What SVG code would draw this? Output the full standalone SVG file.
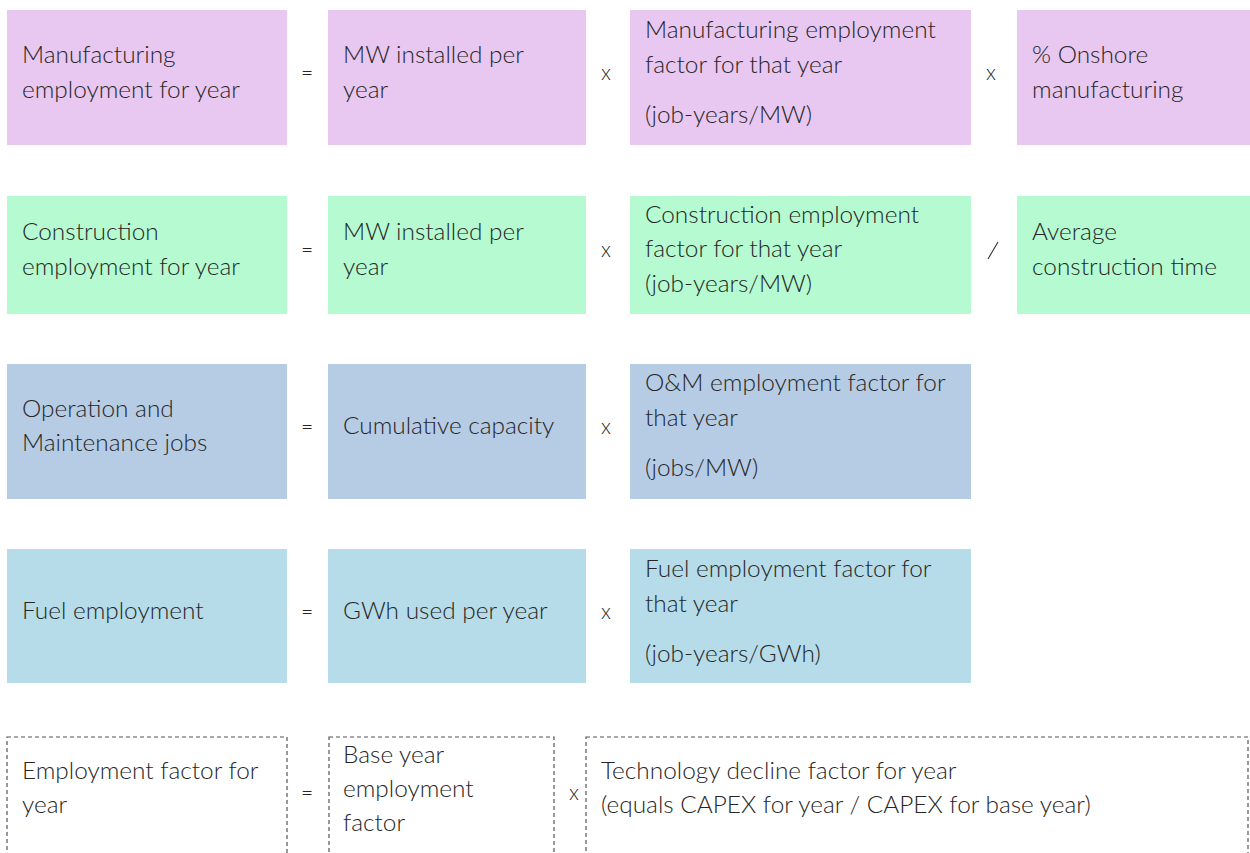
<svg xmlns="http://www.w3.org/2000/svg" width="1250" height="853" viewBox="0 0 1250 853">
  <style>
    text { font-family: Lato, "Open Sans", "Liberation Sans", sans-serif; font-size: 24.4px; font-weight: 300; fill: #262626; }
    .op { font-size: 21px; text-anchor: middle; }
    .mfg { fill: #E8C7F1; }
    .con { fill: #B5FAD0; }
    .om { fill: #B6CBE4; }
    .fuel { fill: #B5DCE8; }
    .dash { fill: none; stroke: #555555; stroke-width: 1.2; stroke-dasharray: 4 3; }
  </style>

  <!-- Row 1: manufacturing -->
  <g id="mfg-result"><rect class="mfg" x="7" y="10" width="280" height="135"/>
    <text x="22" y="63">Manufacturing</text><text x="22" y="98">employment for year</text></g>
  <g id="mfg-mw"><rect class="mfg" x="328" y="10" width="258" height="135"/>
    <text x="343" y="63">MW installed per</text><text x="343" y="98">year</text></g>
  <g id="mfg-factor"><rect class="mfg" x="630" y="10" width="341" height="135"/>
    <text x="645" y="38">Manufacturing employment</text><text x="645" y="73">factor for that year</text><text x="645" y="123">(job-years/MW)</text></g>
  <g id="mfg-onshore"><rect class="mfg" x="1017" y="10" width="233" height="135"/>
    <text x="1032" y="63">% Onshore</text><text x="1032" y="98">manufacturing</text></g>

  <!-- Row 2: construction -->
  <g id="con-result"><rect class="con" x="7" y="196" width="280" height="118"/>
    <text x="22" y="240">Construction</text><text x="22" y="275">employment for year</text></g>
  <g id="con-mw"><rect class="con" x="328" y="196" width="258" height="118"/>
    <text x="343" y="240">MW installed per</text><text x="343" y="275">year</text></g>
  <g id="con-factor"><rect class="con" x="630" y="196" width="341" height="118"/>
    <text x="645" y="223">Construction employment</text><text x="645" y="257">factor for that year</text><text x="645" y="292">(job-years/MW)</text></g>
  <g id="con-time"><rect class="con" x="1017" y="196" width="233" height="118"/>
    <text x="1032" y="240">Average</text><text x="1032" y="275">construction time</text></g>

  <!-- Row 3: operation and maintenance -->
  <g id="om-result"><rect class="om" x="7" y="364" width="280" height="135"/>
    <text x="22" y="417">Operation and</text><text x="22" y="451">Maintenance jobs</text></g>
  <g id="om-capacity"><rect class="om" x="328" y="364" width="258" height="135"/>
    <text x="343" y="434">Cumulative capacity</text></g>
  <g id="om-factor"><rect class="om" x="630" y="364" width="341" height="135"/>
    <text x="645" y="391">O&amp;M employment factor for</text><text x="645" y="426">that year</text><text x="645" y="476">(jobs/MW)</text></g>

  <!-- Row 4: fuel -->
  <g id="fuel-result"><rect class="fuel" x="7" y="549" width="280" height="134"/>
    <text x="22" y="619">Fuel employment</text></g>
  <g id="fuel-gwh"><rect class="fuel" x="328" y="549" width="258" height="134"/>
    <text x="343" y="619">GWh used per year</text></g>
  <g id="fuel-factor"><rect class="fuel" x="630" y="549" width="341" height="134"/>
    <text x="645" y="577">Fuel employment factor for</text><text x="645" y="612">that year</text><text x="645" y="662">(job-years/GWh)</text></g>

  <!-- Row 5: employment factor (dashed) -->
  <g id="ef-result"><rect class="dash" x="7" y="737" width="280" height="130"/>
    <text x="22" y="779">Employment factor for</text><text x="22" y="813">year</text></g>
  <g id="ef-base"><rect class="dash" x="329" y="737" width="225" height="130"/>
    <text x="343" y="763">Base year</text><text x="343" y="797">employment</text><text x="343" y="831">factor</text></g>
  <g id="ef-decline"><rect class="dash" x="586" y="737" width="662" height="130"/>
    <text x="601" y="779">Technology decline factor for year</text><text x="601" y="813">(equals CAPEX for year / CAPEX for base year)</text></g>

  <!-- Operators -->
  <g id="operators">
    <text class="op" x="307" y="80">=</text>
    <text class="op" x="606" y="80">x</text>
    <text class="op" x="991" y="80">x</text>
    <text class="op" x="307" y="257">=</text>
    <text class="op" x="606" y="257">x</text>
    <line x1="988" y1="259" x2="998" y2="242" stroke="#333333" stroke-width="1.1"/>
    <text class="op" x="307" y="434">=</text>
    <text class="op" x="606" y="434">x</text>
    <text class="op" x="307" y="619">=</text>
    <text class="op" x="606" y="619">x</text>
    <text class="op" x="307" y="800">=</text>
    <text class="op" x="574" y="800">x</text>
  </g>
</svg>
